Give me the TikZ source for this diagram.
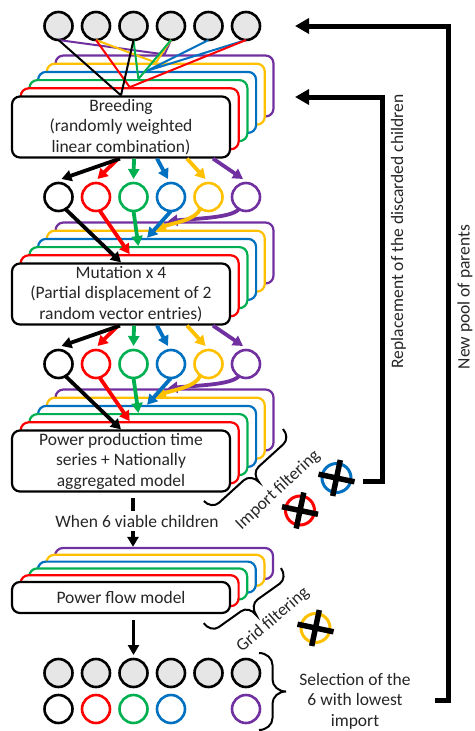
\documentclass[tikz,border=0pt]{standalone}
\usepackage{fontspec}
\setmainfont{Carlito}
\usetikzlibrary{arrows.meta,calc}
\definecolor{cred}{RGB}{255,0,0}
\definecolor{cgreen}{RGB}{0,176,80}
\definecolor{cblue}{RGB}{0,112,192}
\definecolor{cyellow}{RGB}{255,192,0}
\definecolor{cpurple}{RGB}{112,48,160}
\definecolor{ctext}{RGB}{38,38,38}
\definecolor{cgray}{RGB}{230,230,230}
\tikzset{
  txt/.style={font=\fontsize{17.5}{20.5}\selectfont, text=ctext, align=center},
  procbox/.style={draw=#1, fill=white, line width=2.2pt, rounded corners=8pt, minimum width=218pt, inner sep=0pt},
  circ/.style={circle, draw=#1, line width=2.6pt, minimum size=28pt, inner sep=0pt, outer sep=0pt},
  pl/.style={draw=#1, line width=2pt},
  arr/.style={draw=#1, line width=3.8pt, -{Triangle[length=10pt,width=11pt]}},
  bigarr/.style={draw=black, line width=5pt, -{Triangle[length=14pt,width=15pt]}},
  crossline/.style={draw=black, line width=5.5pt},
  bracestyle/.style={draw=black, line width=2pt},
  pics/mybr/.style n args={3}{code={
    \draw[bracestyle] (0,0) .. controls (0.276*#1,0) and (0.5*#1,0.448*#3) .. (0.5*#1,#3)
      -- (0.5*#1,0.5*#2-#3) .. controls (0.5*#1,0.5*#2-0.448*#3) and (0.724*#1,0.5*#2) .. (#1,0.5*#2)
      .. controls (0.724*#1,0.5*#2) and (0.5*#1,0.5*#2+0.448*#3) .. (0.5*#1,0.5*#2+#3)
      -- (0.5*#1,#2-#3) .. controls (0.5*#1,#2-0.448*#3) and (0.276*#1,#2) .. (0,#2);
  }}
}
\begin{document}
\begin{tikzpicture}[x=1pt,y=-1pt]
\useasboundingbox (0,0) rectangle (474,731);

% ---------- stacks ----------
\foreach \k/\c in {5/cpurple,4/cyellow,3/cblue,2/cgreen,1/cred}{
  \node[procbox=\c, minimum height=61pt] (br\k) at (121+8.7*\k,127-8.2*\k) {};
}
\node[procbox=black, minimum height=61pt, txt] (breed) at (121,127) {Breeding\\(randomly weighted\\linear combination)};

\foreach \k/\c in {5/cpurple,4/cyellow,3/cblue,2/cgreen,1/cred}{
  \node[procbox=\c, minimum height=61pt] (mu\k) at (121+8.7*\k,294-8.2*\k) {};
}
\node[procbox=black, minimum height=61pt, txt] (mut) at (121,294) {Mutation x 4\\(Partial displacement of 2\\random vector entries)};

\foreach \k/\c in {5/cpurple,4/cyellow,3/cblue,2/cgreen,1/cred}{
  \node[procbox=\c, minimum height=61pt] (pq\k) at (121+8.7*\k,461-8.2*\k) {};
}
\node[procbox=black, minimum height=61pt, txt] (pp) at (121,461) {Power production time\\series + Nationally\\aggregated model};

\foreach \k/\c in {5/cpurple,4/cyellow,3/cblue,2/cgreen,1/cred}{
  \node[procbox=\c, minimum height=31pt] (pf\k) at (121+8.6*\k,597.5-6.8*\k) {};
}
\node[procbox=black, minimum height=31pt, txt] (pflow) at (121,597.5) {Power flow model};

% ---------- circles ----------
\foreach \i in {1,...,6}{
  \node[circ=black, fill=cgray] (p\i) at (21+37.5*\i,26) {};
  \node[circ=black, fill=cgray] (g\i) at (21+37.5*\i,673) {};
}
\foreach \i/\c in {1/black,2/cred,3/cgreen,4/cblue,5/cyellow,6/cpurple}{
  \node[circ=\c] (r\i) at (21+37.5*\i,197) {};
  \node[circ=\c] (s\i) at (21+37.5*\i,364) {};
}
\foreach \i/\c in {1/black,2/cred,3/cgreen,4/cblue,6/cpurple}{
  \node[circ=\c] (f\i) at (21+37.5*\i,709) {};
}

% ---------- parents to breeding ----------
\draw[pl=cpurple] (p1.south) -- (br5.north) (p4.south) -- (br5.north);
\draw[pl=cyellow] (p2.south) -- (br4.north) (p4.south) -- (br4.north);
\draw[pl=cblue] (p5.south) -- (br3.north) (p6.south) -- (br3.north);
\draw[pl=cgreen] (p3.south) -- (br2.north) (p4.south) -- (br2.north);
\draw[pl=cred] (p2.south) -- (br1.north) (p6.south) -- (br1.north);
\draw[pl=black] (p1.south) -- (breed.north) (p3.south) -- (breed.north);

% ---------- breeding -> row 1 ----------
\draw[arr=cpurple] ($(breed.south)+(92,0)$) -- ($(r6.north)+(-3,-4)$);
\draw[arr=cyellow] ($(breed.south)+(66,0)$) -- ($(r5.north)+(-3,-4)$);
\draw[arr=cblue] ($(breed.south)+(36,0)$) -- ($(r4.north)+(-3,-4)$);
\draw[arr=cgreen] ($(breed.south)+(13,0)$) -- ($(r3.north)+(0,-4)$);
\draw[arr=cred] ($(breed.south)+(-3,0)$) -- ($(r2.north)+(1.5,-4)$);
\draw[arr=black] ($(breed.south)+(-1,0)$) -- ($(r1.north)+(3,-4)$);

% ---------- row 1 -> mutation ----------
\draw[arr=cpurple] (r6.-120) .. controls +(-8,9) and +(28,-3) .. ($(mu5.north)+(3,0)$);
\draw[arr=cyellow] (r5.-125) .. controls +(-5,12) and +(18,-7) .. (mu4.north);
\draw[arr=cblue] (r4.south) -- (mu3.north);
\draw[arr=cgreen] (r3.south) -- (mu2.north);
\draw[arr=cred] (r2.-75) -- (mu1.north);
\draw[arr=black] (r1.-60) -- (mut.north);

% ---------- mutation -> row 2 ----------
\draw[arr=cpurple] ($(mut.south)+(92,0)$) -- ($(s6.north)+(-3,-4)$);
\draw[arr=cyellow] ($(mut.south)+(66,0)$) -- ($(s5.north)+(-3,-4)$);
\draw[arr=cblue] ($(mut.south)+(36,0)$) -- ($(s4.north)+(-3,-4)$);
\draw[arr=cgreen] ($(mut.south)+(13,0)$) -- ($(s3.north)+(0,-4)$);
\draw[arr=cred] ($(mut.south)+(-3,0)$) -- ($(s2.north)+(1.5,-4)$);
\draw[arr=black] ($(mut.south)+(-1,0)$) -- ($(s1.north)+(3,-4)$);

% ---------- row 2 -> power production ----------
\draw[arr=cpurple] (s6.-120) .. controls +(-8,9) and +(28,-3) .. ($(pq5.north)+(3,0)$);
\draw[arr=cyellow] (s5.-125) .. controls +(-5,12) and +(18,-7) .. (pq4.north);
\draw[arr=cblue] (s4.south) -- (pq3.north);
\draw[arr=cgreen] (s3.south) -- (pq2.north);
\draw[arr=cred] (s2.-75) -- (pq1.north);
\draw[arr=black] (s1.-60) -- (pp.north);

% ---------- power production -> power flow ----------
\node[txt, inner xsep=1pt, inner ysep=4pt] (when) at (137,521) {When 6 viable children};
\coordinate (ppout) at ($(pp.south)+(12,5)$);
\draw[draw=black, line width=3.8pt] (ppout) -- (ppout |- when.north);
\draw[arr=black] (ppout |- when.south) -- (ppout |- pf5.north);

% ---------- power flow -> selection ----------
\coordinate (pfout) at ($(pflow.south -| g3)+(0,6)$);
\draw[arr=black] (pfout) -- ($(g3.north)+(0,-4)$);

% ---------- braces and filter labels ----------
\pic[rotate=-47.7] at (283,429) {mybr={23}{107}{10}};
\pic[rotate=-54.5] at (281,568) {mybr={24}{95}{10}};
\pic at (259,653) {mybr={27}{77}{12}};
\node[txt, rotate=43] (imptext) at (278,490) {Import filtering};
\node[txt, rotate=41] (gridtext) at (273,620) {Grid filtering};
\node[txt] (seltext) at (355,701) {Selection of the\\6 with lowest\\import};

% ---------- crossed-out children ----------
\node[circ=cblue, line width=3pt, minimum size=29pt] (xb) at (336.5,478) {};
\node[circ=cred, line width=3pt, minimum size=29pt] (xr) at (300,510.5) {};
\node[circ=cyellow, line width=3pt, minimum size=29pt] (xy) at (315.5,628) {};
\foreach \n in {xb,xr,xy}{
  \draw[crossline] ($(\n)+(-18,-3.8)$) -- ($(\n)+(18,3.8)$);
  \draw[crossline] ($(\n)+(3.8,-18)$) -- ($(\n)+(-3.8,18)$);
}

% ---------- feedback arrows ----------
\coordinate (repstart) at ($(xb.east)+(12,3)$);
\coordinate (repcorner) at (382,97);
\coordinate (reptip) at (295,97);
\draw[bigarr] (repstart) -| (repcorner) -- (reptip);
\node[txt, rotate=90] (reptext) at (398.5,231.5) {Replacement of the discarded children};

\coordinate (npstart) at (435,700);
\coordinate (npcorner) at (448.5,26);
\coordinate (nptip) at (295,26);
\draw[bigarr] (npstart) -| (npcorner) -- (nptip);
\node[txt, rotate=90] (nptext) at (465,297) {New pool of parents};
\end{tikzpicture}
\end{document}
